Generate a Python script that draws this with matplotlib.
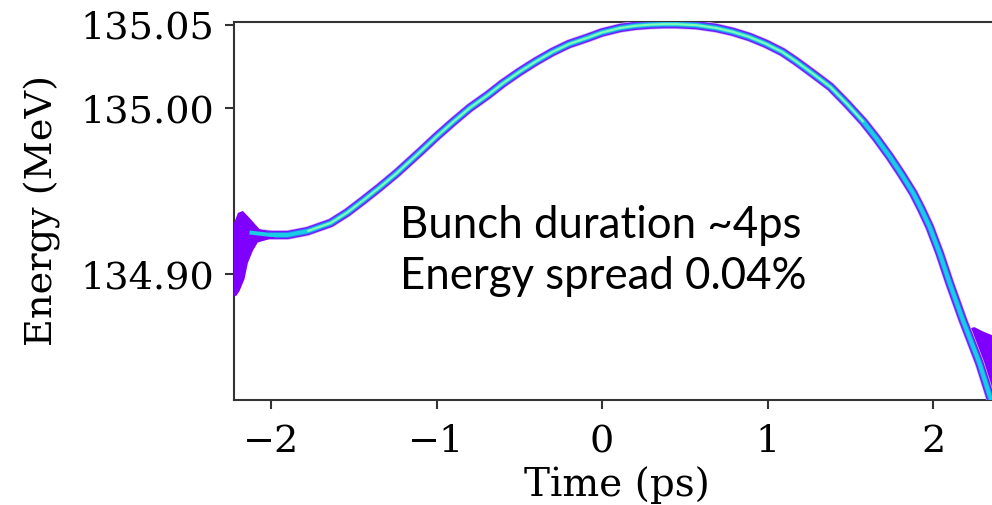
import numpy as np
import matplotlib
matplotlib.use('Agg')
import matplotlib.pyplot as plt

# centre line of the bunch
time_ps = [-2.13, -2.00, -1.90, -1.78, -1.64, -1.54, -1.44, -1.34, -1.24, -1.10,
           -1.00, -0.90, -0.80, -0.69, -0.60, -0.50, -0.40, -0.30, -0.20, -0.09,
           0.00, 0.11, 0.20, 0.29, 0.37, 0.45, 0.57, 0.69, 0.79, 0.89,
           0.99, 1.09, 1.17, 1.24, 1.31, 1.38, 1.48, 1.58, 1.66, 1.74,
           1.81, 1.88, 1.93, 1.98, 2.04, 2.10, 2.18, 2.28, 2.37]
energy_mev = [134.9250, 134.9235, 134.9235, 134.9258, 134.9307, 134.9370, 134.9446,
              134.9525, 134.9608, 134.9735, 134.9828, 134.9916, 135.0000, 135.0078,
              135.0148, 135.0217, 135.0280, 135.0337, 135.0385, 135.0422, 135.0455,
              135.0482, 135.0495, 135.0502, 135.0505, 135.0505, 135.0499, 135.0482,
              135.0459, 135.0428, 135.0387, 135.0337, 135.0283, 135.0232, 135.0180,
              135.0127, 135.0025, 134.9916, 134.9815, 134.9705, 134.9600, 134.9488,
              134.9390, 134.9283, 134.9125, 134.8946, 134.8723, 134.8464, 134.8180]

# head of the bunch (left spike) outline
head_t = [-2.23, -2.20, -2.17, -2.13, -2.07, -1.98, -1.98, -2.08, -2.11,
          -2.14, -2.16, -2.19, -2.21, -2.23]
head_e = [134.9290, 134.9368, 134.9380, 134.9338, 134.9271, 134.9238, 134.9218,
          134.9190, 134.9139, 134.9066, 134.8970, 134.8898, 134.8868, 134.8868]

# tail of the bunch (lower right scatter) outline
tail_t = [2.21, 2.25, 2.30, 2.36, 2.40, 2.40, 2.33, 2.27, 2.22]
tail_e = [134.8670, 134.8680, 134.8655, 134.8630, 134.8600, 134.8240, 134.8240, 134.8440, 134.8610]

yticks = [134.90, 135.00, 135.05]
xticks = [-2, -1, 0, 1, 2]

cm = plt.cm.rainbow

fig = plt.figure(figsize=(9.92, 5.05), dpi=100)
ax = fig.add_axes([0.2359, 0.2079, 0.7714, 0.7495])

ax.fill(tail_t, tail_e, color=cm(0.0), lw=0, zorder=2)

# layered band: light edge, purple, blue, cyan, green core
kw = dict(solid_capstyle='butt', solid_joinstyle='round')
ax.plot(time_ps, energy_mev, color=(0.85, 0.72, 1.0), lw=7.0, zorder=3, **kw)
ax.plot(time_ps, energy_mev, color=cm(0.03), lw=6.0, zorder=3, **kw)
ax.plot(time_ps, energy_mev, color=cm(0.14), lw=4.3, zorder=4, **kw)
ax.plot(time_ps, energy_mev, color=cm(0.3), lw=2.9, zorder=5, **kw)
core = slice(3, 38)
ax.plot(time_ps[core], energy_mev[core], color=cm(0.5), lw=1.5, zorder=6, **kw)

ax.fill(head_t, head_e, color=cm(0.0), lw=0, zorder=4)

ax.set_xlim(-2.2236, 2.40)
ax.set_ylim(134.8241, 135.0521)
ax.set_xticks(xticks)
ax.set_yticks(yticks)
ax.set_yticklabels(['%.2f' % v for v in yticks])

for s in ax.spines.values():
    s.set_linewidth(1.5)
    s.set_color('#333333')
ax.tick_params(labelsize=27.5, length=6.5, width=1.5, pad=8, color='#333333')
ax.tick_params(axis='x', pad=11)
for lab in ax.get_xticklabels() + ax.get_yticklabels():
    lab.set_family('DejaVu Serif')

ax.set_xlabel('Time (ps)', family='DejaVu Serif', fontsize=28, labelpad=4)
ax.set_ylabel('Energy (MeV)', family='DejaVu Serif', fontsize=27.5, labelpad=14)

ax.text(400 / 992, 1 - 238 / 505, 'Bunch duration ~4ps', transform=fig.transFigure,
        family='Lato', fontsize=31.5, va='baseline', ha='left')
ax.text(400 / 992, 1 - 289 / 505, 'Energy spread 0.04%', transform=fig.transFigure,
        family='Lato', fontsize=31.5, va='baseline', ha='left')

fig.savefig('out.png', dpi=100)
